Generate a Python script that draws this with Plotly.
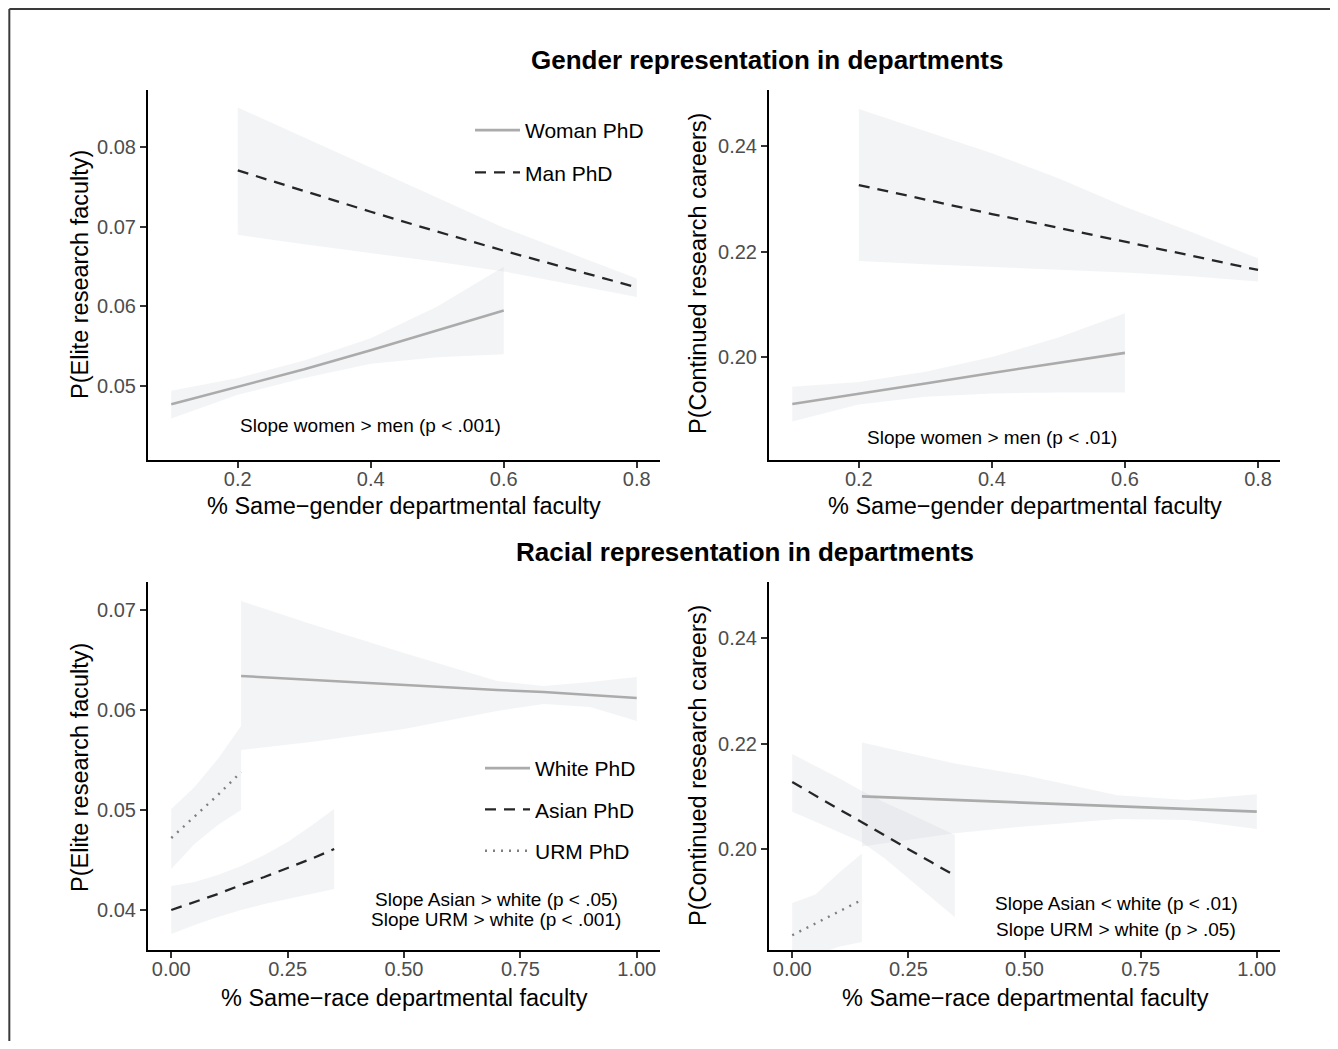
import plotly.graph_objects as go

# page has an 8px body margin; figure drawn so the visible page matches 1338x1049
PAGE_W, PAGE_H, OFF = 1338, 1049, 8
W, H = PAGE_W - 2 * OFF, PAGE_H - 2 * OFF

# ---------------- data ----------------
# Panel A: gender representation -> P(Elite research faculty)
a_woman_x = [0.1, 0.2, 0.3, 0.4, 0.5, 0.6]
a_woman_y = [0.0477, 0.0499, 0.0521, 0.0545, 0.0570, 0.0595]
a_woman_hi = [0.0494, 0.0510, 0.0532, 0.0560, 0.0600, 0.0650]
a_woman_lo = [0.0459, 0.0489, 0.0510, 0.0528, 0.0536, 0.0540]

a_man_x = [0.2, 0.3, 0.4, 0.5, 0.6, 0.7, 0.8]
a_man_y = [0.0771, 0.0745, 0.0719, 0.0694, 0.0670, 0.0647, 0.0624]
a_man_hi = [0.0850, 0.0812, 0.0774, 0.0736, 0.0699, 0.0667, 0.0635]
a_man_lo = [0.0690, 0.0678, 0.0667, 0.0656, 0.0644, 0.0628, 0.0612]

# Panel B: gender representation -> P(Continued research careers)
b_woman_x = [0.1, 0.2, 0.3, 0.4, 0.5, 0.6]
b_woman_y = [0.1911, 0.1930, 0.1950, 0.1970, 0.1989, 0.2008]
b_woman_hi = [0.1944, 0.1953, 0.1972, 0.2000, 0.2037, 0.2083]
b_woman_lo = [0.1878, 0.1910, 0.1925, 0.1931, 0.1933, 0.1933]

b_man_x = [0.2, 0.3, 0.4, 0.5, 0.6, 0.7, 0.8]
b_man_y = [0.2326, 0.2298, 0.2271, 0.2245, 0.2219, 0.2192, 0.2165]
b_man_hi = [0.2470, 0.2428, 0.2386, 0.2339, 0.2285, 0.2237, 0.2187]
b_man_lo = [0.2182, 0.2176, 0.2170, 0.2165, 0.2160, 0.2153, 0.2143]

# Panel C: racial representation -> P(Elite research faculty)
c_white_x = [0.15, 0.3, 0.5, 0.7, 0.8, 0.9, 1.0]
c_white_y = [0.0634, 0.0630, 0.0625, 0.0620, 0.0618, 0.0615, 0.0612]
c_white_hi = [0.0709, 0.0686, 0.0657, 0.0629, 0.0624, 0.0628, 0.0633]
c_white_lo = [0.0560, 0.0568, 0.0581, 0.0599, 0.0606, 0.0603, 0.0589]

c_asian_x = [0.0, 0.05, 0.1, 0.15, 0.2, 0.25, 0.3, 0.35]
c_asian_y = [0.0400, 0.0408, 0.0416, 0.0425, 0.0433, 0.0442, 0.0451, 0.0461]
c_asian_hi = [0.0424, 0.0428, 0.0435, 0.0444, 0.0455, 0.0468, 0.0484, 0.0501]
c_asian_lo = [0.0376, 0.0385, 0.0393, 0.0400, 0.0406, 0.0411, 0.0416, 0.0421]

c_urm_x = [0.0, 0.05, 0.1, 0.15]
c_urm_y = [0.0472, 0.0493, 0.0515, 0.0538]
c_urm_hi = [0.0501, 0.0523, 0.0551, 0.0584]
c_urm_lo = [0.0441, 0.0466, 0.0485, 0.0500]

# Panel D: racial representation -> P(Continued research careers)
d_white_x = [0.15, 0.35, 0.5, 0.7, 0.85, 1.0]
d_white_y = [0.2100, 0.2093, 0.2088, 0.2081, 0.2076, 0.2071]
d_white_hi = [0.2202, 0.2162, 0.2140, 0.2102, 0.2093, 0.2104]
d_white_lo = [0.2005, 0.2030, 0.2043, 0.2057, 0.2055, 0.2038]

d_asian_x = [0.0, 0.05, 0.1, 0.15, 0.2, 0.25, 0.3, 0.35]
d_asian_y = [0.2127, 0.2101, 0.2076, 0.2051, 0.2025, 0.2000, 0.1975, 0.1950]
d_asian_hi = [0.2180, 0.2158, 0.2135, 0.2110, 0.2088, 0.2068, 0.2047, 0.2027]
d_asian_lo = [0.2071, 0.2052, 0.2033, 0.2013, 0.1982, 0.1945, 0.1908, 0.1871]

d_urm_x = [0.0, 0.05, 0.1, 0.15]
d_urm_y = [0.1837, 0.1859, 0.1881, 0.1904]
d_urm_hi = [0.1898, 0.1914, 0.1955, 0.1992]
d_urm_lo = [0.1776, 0.1800, 0.1815, 0.1824]

gender_xticks = [0.2, 0.4, 0.6, 0.8]
race_xticks = [0.0, 0.25, 0.5, 0.75, 1.0]
elite_gender_yticks = [0.05, 0.06, 0.07, 0.08]
cont_yticks = [0.20, 0.22, 0.24]
elite_race_yticks = [0.04, 0.05, 0.06, 0.07]

# ---------------- styles ----------------
FONT = "Liberation Sans, Arial, sans-serif"
CI_FILL = "rgba(185,190,200,0.17)"
STYLE = {
    "light": dict(color="#ababab", width=2.6, dash="solid"),
    "dash": dict(color="#262626", width=2.3, dash="11px,8px"),
    "dot": dict(color="#808080", width=2.4, dash="2px,6px"),
}


def px2x(p):
    return (p - OFF) / W


def px2y(p):
    return 1 - (p - OFF) / H


fig = go.Figure()


def add_series(x, y, lo, hi, style, name, axn, legend=None):
    xa = "x" if axn == 1 else f"x{axn}"
    ya = "y" if axn == 1 else f"y{axn}"
    fig.add_trace(go.Scatter(
        x=list(x) + list(x)[::-1], y=list(hi) + list(lo)[::-1],
        fill="toself", fillcolor=CI_FILL, line=dict(width=0),
        mode="lines", hoverinfo="skip", showlegend=False, xaxis=xa, yaxis=ya))
    fig.add_trace(go.Scatter(
        x=x, y=y, mode="lines", line=STYLE[style], name=name,
        showlegend=legend is not None, legend=legend or "legend",
        legendgroup=name, xaxis=xa, yaxis=ya))


add_series(a_woman_x, a_woman_y, a_woman_lo, a_woman_hi, "light", "Woman PhD", 1, "legend")
add_series(a_man_x, a_man_y, a_man_lo, a_man_hi, "dash", "Man PhD", 1, "legend")
add_series(b_woman_x, b_woman_y, b_woman_lo, b_woman_hi, "light", "Woman PhD b", 2)
add_series(b_man_x, b_man_y, b_man_lo, b_man_hi, "dash", "Man PhD b", 2)
add_series(c_white_x, c_white_y, c_white_lo, c_white_hi, "light", "White PhD", 3, "legend2")
add_series(c_asian_x, c_asian_y, c_asian_lo, c_asian_hi, "dash", "Asian PhD", 3, "legend2")
add_series(c_urm_x, c_urm_y, c_urm_lo, c_urm_hi, "dot", "URM PhD", 3, "legend2")
add_series(d_white_x, d_white_y, d_white_lo, d_white_hi, "light", "White PhD d", 4)
add_series(d_asian_x, d_asian_y, d_asian_lo, d_asian_hi, "dash", "Asian PhD d", 4)
add_series(d_urm_x, d_urm_y, d_urm_lo, d_urm_hi, "dot", "URM PhD d", 4)


def axis(domain, rng, ticks, fmt, anchor, is_x):
    d = dict(domain=domain, range=rng, tickvals=ticks, tickformat=fmt,
             showline=True, linecolor="black", linewidth=2,
             ticks="outside", ticklen=6, tickwidth=2, tickcolor="#333333",
             tickfont=dict(family=FONT, size=20, color="#4d4d4d"),
             showgrid=False, zeroline=False, anchor=anchor, automargin=False)
    if is_x:
        d["ticklabelstandoff"] = -6
    return d


XL = [px2x(148), px2x(660)]
XR = [px2x(769), px2x(1280)]
YT = [px2y(460), px2y(90)]
YB = [px2y(950), px2y(582)]

fig.update_layout(
    width=W, height=H,
    margin=dict(l=0, r=0, t=0, b=0),
    paper_bgcolor="white", plot_bgcolor="white",
    font=dict(family=FONT, color="black"),
    xaxis=axis(XL, [0.065, 0.835], gender_xticks, ".1f", "y", True),
    yaxis=axis(YT, [0.0407, 0.0872], elite_gender_yticks, ".2f", "x", False),
    xaxis2=axis(XR, [0.065, 0.833], gender_xticks, ".1f", "y2", True),
    yaxis2=axis(YT, [0.1805, 0.2506], cont_yticks, ".2f", "x2", False),
    xaxis3=axis(XL, [-0.05, 1.05], race_xticks, ".2f", "y3", True),
    yaxis3=axis(YB, [0.0360, 0.0728], elite_race_yticks, ".2f", "x3", False),
    xaxis4=axis(XR, [-0.05, 1.05], race_xticks, ".2f", "y4", True),
    yaxis4=axis(YB, [0.1809, 0.2506], cont_yticks, ".2f", "x4", False),
    legend=dict(x=px2x(470), y=px2y(110), xanchor="left", yanchor="top",
                bgcolor="rgba(0,0,0,0)", font=dict(family=FONT, size=21),
                traceorder="grouped", tracegroupgap=12, itemwidth=45),
    legend2=dict(x=px2x(480), y=px2y(748), xanchor="left", yanchor="top",
                 bgcolor="rgba(0,0,0,0)", font=dict(family=FONT, size=21),
                 traceorder="grouped", tracegroupgap=11, itemwidth=45),
)

ann = []


def paper_text(text, cx, cy, size, angle=0):
    ann.append(dict(text=text, x=px2x(cx), y=px2y(cy), xref="paper", yref="paper",
                    xanchor="center", yanchor="middle", showarrow=False,
                    textangle=angle, font=dict(size=size)))


# section titles
paper_text("<b>Gender representation in departments</b>", 767, 60, 26)
paper_text("<b>Racial representation in departments</b>", 745, 552, 26)
# axis titles
for cx, cy, t in [(404, 506, "% Same\u2212gender departmental faculty"),
                  (1025, 506, "% Same\u2212gender departmental faculty"),
                  (404, 998, "% Same\u2212race departmental faculty"),
                  (1025, 998, "% Same\u2212race departmental faculty")]:
    paper_text(t, cx, cy, 23.5)
for cx, cy, t in [(80, 275, "P(Elite research faculty)"),
                  (698, 274, "P(Continued research careers)"),
                  (80, 768, "P(Elite research faculty)"),
                  (698, 766, "P(Continued research careers)")]:
    paper_text(t, cx, cy, 23.5, -90)
# slope notes
notes = [("x", "y", 0.4, 0.0450, "Slope women > men (p < .001)"),
         ("x2", "y2", 0.4, 0.1848, "Slope women > men (p < .01)"),
         ("x3", "y3", 0.698, 0.0411, "Slope Asian > white (p < .05)"),
         ("x3", "y3", 0.698, 0.0391, "Slope URM > white (p < .001)"),
         ("x4", "y4", 0.698, 0.1898, "Slope Asian < white (p < .01)"),
         ("x4", "y4", 0.698, 0.1848, "Slope URM > white (p > .05)")]
for xr, yr, x, y, t in notes:
    ann.append(dict(text=t, x=x, y=y, xref=xr, yref=yr, showarrow=False,
                    xanchor="center", yanchor="middle", font=dict(size=19)))
fig.update_layout(annotations=ann)

# outer frame (left and top edges)
fig.add_shape(type="line", xref="paper", yref="paper", x0=0.001, x1=0.001,
              y0=0, y1=0.999, line=dict(color="#3a3a3a", width=2))
fig.add_shape(type="line", xref="paper", yref="paper", x0=0.001, x1=1,
              y0=0.999, y1=0.999, line=dict(color="#3a3a3a", width=2))

fig.write_html("out.html")
